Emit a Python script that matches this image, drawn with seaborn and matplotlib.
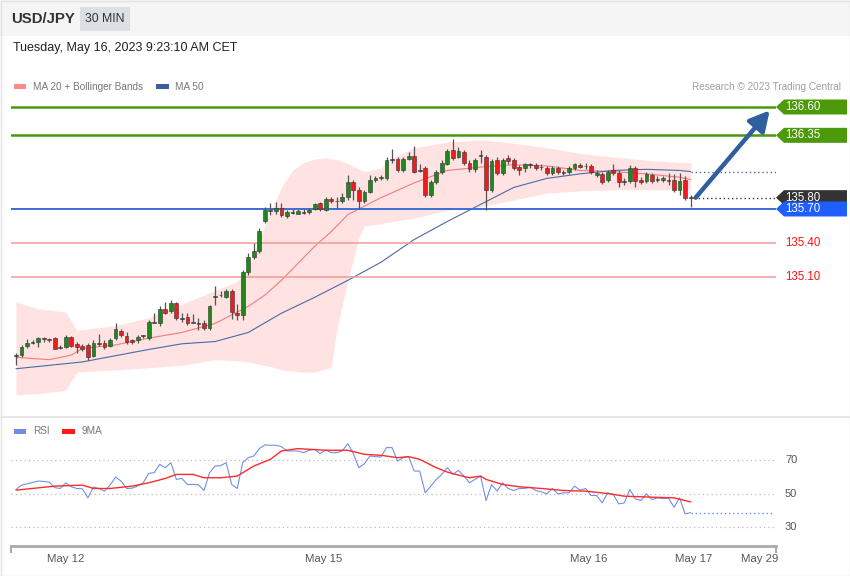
import numpy as np
import matplotlib
matplotlib.use("Agg")
import matplotlib.pyplot as plt
import seaborn as sns
from matplotlib.patches import Rectangle, Polygon
from matplotlib.transforms import blended_transform_factory

# ---------------- data (USD/JPY 30 min candles) ----------------
open_ = [134.40, 134.41, 134.49, 134.52, 134.53, 134.56, 134.55, 134.56, 134.47, 134.48,
         134.57, 134.51, 134.49, 134.50, 134.40, 134.51, 134.52, 134.49, 134.56, 134.62,
         134.58, 134.54, 134.54, 134.58, 134.56, 134.70, 134.69, 134.82, 134.80, 134.87,
         134.73, 134.75, 134.70, 134.69, 134.69, 134.65, 134.92, 134.94, 134.92, 134.98,
         134.78, 134.76, 135.14, 135.28, 135.33, 135.59, 135.69, 135.68, 135.71, 135.64,
         135.67, 135.66, 135.67, 135.67, 135.70, 135.75, 135.69, 135.79, 135.77, 135.77,
         135.81, 135.94, 135.87, 135.77, 135.85, 135.96, 135.97, 135.97, 136.14, 136.14,
         136.04, 136.14, 136.17, 136.04, 136.06, 135.82, 135.94, 136.03, 136.10, 136.22,
         136.16, 136.20, 136.11, 136.05, 136.17, 136.16, 135.87, 136.13, 136.02, 136.15,
         136.13, 136.07, 136.06, 136.09, 136.09, 136.07, 136.06, 136.02, 136.06, 136.03,
         136.03, 136.06, 136.09, 136.08, 136.08, 136.00, 136.01, 135.96, 136.04, 136.02,
         135.94, 135.95, 136.06, 135.96, 135.95, 136.00, 135.96, 135.96, 135.96, 135.96,
         135.87, 135.96, 135.80]
high = [134.43, 134.50, 134.55, 134.54, 134.57, 134.57, 134.56, 134.57, 134.50, 134.59,
        134.58, 134.53, 134.51, 134.52, 134.54, 134.60, 134.54, 134.56, 134.69, 134.64,
        134.61, 134.55, 134.59, 134.59, 134.72, 134.78, 134.84, 134.88, 134.90, 134.88,
        134.78, 134.78, 134.77, 134.74, 134.72, 134.85, 135.02, 134.98, 134.99, 134.99,
        134.86, 135.16, 135.31, 135.40, 135.53, 135.72, 135.75, 135.76, 135.75, 135.69,
        135.70, 135.70, 135.70, 135.71, 135.75, 135.76, 135.81, 135.81, 135.81, 135.84,
        136.00, 135.96, 135.89, 135.87, 136.00, 135.99, 136.00, 136.16, 136.23, 136.16,
        136.16, 136.20, 136.26, 136.10, 136.08, 135.96, 136.04, 136.13, 136.23, 136.32,
        136.25, 136.22, 136.13, 136.15, 136.22, 136.18, 136.14, 136.16, 136.15, 136.18,
        136.15, 136.09, 136.11, 136.11, 136.11, 136.10, 136.08, 136.08, 136.08, 136.04,
        136.08, 136.11, 136.11, 136.11, 136.10, 136.04, 136.03, 136.04, 136.10, 136.04,
        135.97, 136.09, 136.08, 135.98, 136.03, 136.02, 135.99, 135.99, 136.02, 136.01,
        136.02, 135.99, 135.82]
low = [134.32, 134.39, 134.47, 134.51, 134.48, 134.53, 134.53, 134.46, 134.46, 134.47,
       134.48, 134.43, 134.45, 134.37, 134.39, 134.49, 134.46, 134.48, 134.54, 134.57,
       134.51, 134.51, 134.52, 134.56, 134.54, 134.69, 134.67, 134.77, 134.78, 134.72,
       134.70, 134.68, 134.69, 134.63, 134.63, 134.63, 134.85, 134.92, 134.91, 134.73,
       134.72, 134.72, 135.12, 135.26, 135.31, 135.58, 135.65, 135.66, 135.63, 135.62,
       135.66, 135.66, 135.66, 135.66, 135.69, 135.68, 135.68, 135.75, 135.71, 135.75,
       135.78, 135.78, 135.70, 135.75, 135.84, 135.94, 135.96, 135.96, 136.11, 136.03,
       136.03, 136.13, 136.02, 136.03, 135.81, 135.81, 135.92, 136.01, 136.09, 136.13,
       136.15, 136.09, 136.03, 136.03, 136.11, 135.69, 135.85, 136.00, 136.00, 136.10,
       136.04, 136.00, 136.03, 136.06, 136.04, 136.04, 136.00, 136.00, 136.01, 136.00,
       136.01, 136.04, 136.06, 136.05, 136.01, 135.98, 135.92, 135.94, 136.00, 135.89,
       135.91, 135.93, 135.89, 135.92, 135.93, 135.93, 135.94, 135.94, 135.91, 135.85,
       135.82, 135.78, 135.72]
close = [134.41, 134.48, 134.52, 134.53, 134.56, 134.55, 134.54, 134.46, 134.48, 134.57,
         134.49, 134.48, 134.46, 134.39, 134.52, 134.51, 134.48, 134.54, 134.64, 134.59,
         134.53, 134.53, 134.57, 134.58, 134.70, 134.70, 134.82, 134.78, 134.87, 134.74,
         134.73, 134.69, 134.70, 134.69, 134.65, 134.84, 134.93, 134.94, 134.98, 134.79,
         134.76, 135.14, 135.28, 135.33, 135.51, 135.69, 135.69, 135.71, 135.65, 135.67,
         135.67, 135.68, 135.67, 135.69, 135.74, 135.70, 135.79, 135.77, 135.77, 135.81,
         135.94, 135.87, 135.77, 135.85, 135.96, 135.97, 135.98, 136.13, 136.14, 136.04,
         136.14, 136.17, 136.03, 136.04, 135.82, 135.94, 136.03, 136.11, 136.21, 136.15,
         136.21, 136.11, 136.05, 136.13, 136.17, 135.87, 136.12, 136.02, 136.13, 136.12,
         136.06, 136.04, 136.10, 136.09, 136.06, 136.07, 136.02, 136.06, 136.03, 136.02,
         136.06, 136.10, 136.07, 136.08, 136.03, 136.02, 135.94, 136.03, 136.02, 135.94,
         135.94, 136.06, 135.95, 135.94, 136.01, 135.95, 135.96, 135.97, 135.95, 135.87,
         135.95, 135.80, 135.80]

# moving averages / bands read at sampled candle indices
ma20_idx = [0, 6, 10, 12, 18, 24, 30, 36, 42, 45, 48, 51, 54, 57, 60, 66, 72, 78, 84, 90,
            96, 102, 108, 114, 120, 122]
ma20_val = [134.39, 134.37, 134.41, 134.47, 134.50, 134.56, 134.61, 134.69, 134.84, 134.94,
            135.07, 135.22, 135.37, 135.50, 135.65, 135.80, 135.93, 136.04, 136.07, 136.09,
            136.08, 136.04, 136.03, 136.01, 135.98, 135.96]
ma50_idx = [0, 12, 24, 30, 36, 42, 48, 54, 60, 66, 72, 78, 84, 90, 96, 102, 108, 114, 120, 122]
ma50_val = [134.29, 134.35, 134.46, 134.51, 134.53, 134.61, 134.78, 134.92, 135.07, 135.23,
            135.43, 135.59, 135.74, 135.89, 135.97, 136.01, 136.04, 136.05, 136.04, 136.03]
band_idx = [0, 4, 9, 11, 18, 24, 30, 36, 40, 42, 44, 46, 48, 50, 52, 54, 56, 57, 58, 60,
            62, 63, 66, 68, 72, 78, 84, 90, 96, 102, 108, 114, 120, 122]
band_up = [134.88, 134.82, 134.79, 134.63, 134.67, 134.74, 134.86, 134.98, 135.06, 135.18,
           135.43, 135.67, 135.89, 136.04, 136.11, 136.14, 136.15, 136.14, 136.14, 136.10,
           136.05, 136.03, 136.06, 136.15, 136.24, 136.29, 136.31, 136.28, 136.24, 136.19,
           136.16, 136.13, 136.11, 136.11]
band_lo = [134.06, 134.07, 134.10, 134.26, 134.28, 134.30, 134.32, 134.37, 134.36, 134.35,
           134.33, 134.31, 134.28, 134.27, 134.26, 134.26, 134.29, 134.30, 134.63, 135.07,
           135.45, 135.55, 135.57, 135.59, 135.62, 135.69, 135.72, 135.78, 135.84, 135.86,
           135.87, 135.87, 135.87, 135.87]

rsi = [52.4, 55.0, 55.8, 56.6, 57.4, 57.2, 56.8, 53.5, 53.0, 56.4,
       54.0, 53.0, 52.8, 47.4, 53.8, 53.0, 51.4, 55.0, 59.8, 57.4,
       53.0, 53.2, 54.4, 56.4, 62.0, 62.5, 67.4, 65.4, 68.4, 58.4,
       59.0, 55.4, 55.4, 55.2, 51.8, 62.4, 66.4, 66.6, 68.4, 55.4,
       53.0, 68.4, 71.4, 72.4, 76.8, 79.0, 78.8, 78.8, 78.0, 75.4,
       75.4, 75.4, 74.4, 75.8, 76.4, 73.8, 76.0, 74.4, 74.4, 75.4,
       79.8, 73.8, 65.4, 67.8, 72.4, 72.0, 71.8, 77.4, 77.4, 69.4,
       71.4, 72.0, 63.4, 63.4, 50.4, 54.4, 58.4, 61.4, 65.4, 61.4,
       63.8, 60.4, 56.4, 58.4, 60.4, 45.8, 55.4, 51.4, 56.4, 53.0,
       51.8, 53.0, 53.0, 53.8, 51.8, 51.0, 49.8, 53.0, 49.8, 50.4,
       50.4, 54.4, 52.0, 53.0, 48.8, 48.8, 44.4, 50.4, 49.4, 43.8,
       44.4, 52.4, 46.8, 45.8, 49.8, 46.4, 47.4, 47.0, 47.2, 41.8,
       47.4, 37.8, 38.6]
ma9_idx = [0, 7, 12, 14, 17, 21, 24, 27, 29, 32, 34, 37, 40, 43, 46, 48, 51, 56, 60, 63,
           66, 69, 71, 73, 76, 78, 80, 82, 84, 85, 88, 91, 95, 99, 103, 107, 110, 115, 119, 122]
ma9_val = [52.0, 54.4, 55.0, 53.0, 53.0, 54.4, 56.4, 59.0, 61.4, 61.4, 59.4, 59.4, 60.4, 66.4,
           70.4, 75.4, 76.8, 75.8, 75.8, 73.4, 72.8, 71.4, 72.0, 70.4, 65.4, 62.8, 61.0, 59.4,
           60.4, 58.4, 55.4, 54.0, 53.0, 51.8, 51.4, 50.0, 48.4, 47.8, 47.4, 45.0]

levels = [136.60, 136.35, 135.80, 135.70]
level_colors = ['#4c9a0a', '#4c9a0a', '#333333', '#1f5fff']
level_labels = ['136.60', '136.35', '135.80', '135.70']
supports = [135.40, 135.10]
support_labels = ['135.40', '135.10']
target = 136.57
last_ma50 = 136.03
last_rsi = 38.6

tick_labels = ['May 12', 'May 15', 'May 16', 'May 17', 'May 29']
tick_pos = [8.9, 55.7, 103.6, 122.6, 134.5]

# ---------------- figure ----------------
sns.set_theme(style="white")
plt.rcParams['font.family'] = ['Liberation Sans', 'DejaVu Sans']

W, H = 850, 576
fig = plt.figure(figsize=(W / 100, H / 100), dpi=100)
fig.patch.set_facecolor('white')


def fx(px):
    return px / W


def fy(py):
    return 1 - py / H


def frect(x0, y0, x1, y1, **kw):
    fig.add_artist(Rectangle((fx(x0), fy(y1)), fx(x1) - fx(x0), fy(y0) - fy(y1),
                             transform=fig.transFigure, **kw))


frect(0, 0, 850, 36, facecolor='#f5f5f5', edgecolor='none', zorder=0)
frect(80, 7, 130, 31, facecolor='#dcdfe4', edgecolor='none', zorder=1)
fig.text(fx(11), fy(19), 'USD/JPY', fontsize=10.8, fontweight='bold', color='#333333',
         va='center', ha='left')
fig.text(fx(105), fy(19), '30 MIN', fontsize=8.8, color='#333333', va='center', ha='center')
fig.text(fx(13), fy(48.5), 'Tuesday, May 16, 2023 9:23:10 AM CET', fontsize=9, color='#222222',
         va='center', ha='left')
frect(14, 84, 26, 89, facecolor='#ff8a8a', edgecolor='none')
fig.text(fx(33), fy(86.5), 'MA 20 + Bollinger Bands', fontsize=7.2, color='#777777', va='center')
frect(156, 84, 169, 89, facecolor='#3a5fa0', edgecolor='none')
fig.text(fx(175), fy(86.5), 'MA 50', fontsize=7.2, color='#777777', va='center')
fig.text(fx(841), fy(86.5), 'Research © 2023 Trading Central', fontsize=7.2, color='#a0a0a0',
         va='center', ha='right')
fig.add_artist(plt.Line2D([0, 1], [fy(416.5)] * 2, transform=fig.transFigure,
                          color='#e6e6e6', lw=1.5))
frect(0.5, 0.5, 849.5, 575.5, facecolor='none', edgecolor='#e3e3e3', lw=1)

XL = (-5 / 5.53, 760 / 5.53)
YL = (134.014, 136.706)

# ---------------- main price panel ----------------
ax = fig.add_axes([fx(11), fy(400), fx(776) - fx(11), fy(95) - fy(400)])
ax.set_facecolor('none')

ax.fill_between(band_idx, band_lo, band_up, color='#ffe2e2', lw=0, zorder=1)
sns.lineplot(x=ma20_idx, y=ma20_val, ax=ax, color='#f47c7c', lw=0.8, zorder=2)
sns.lineplot(x=ma50_idx, y=ma50_val, ax=ax, color='#4a6aa8', lw=0.8, zorder=2)

ax.axhline(levels[0], color=level_colors[0], lw=1.8, zorder=2)
ax.axhline(levels[1], color=level_colors[1], lw=1.8, zorder=2)
ax.axhline(levels[3], color='#3b6fd4', lw=1.4, zorder=2)
for s in supports:
    ax.axhline(s, color='#f09a9a', lw=1.1, zorder=2)

idx = np.arange(len(close))
o = np.array(open_)
c = np.array(close)
hi = np.array(high)
lo = np.array(low)
doji = np.abs(c - o) < 0.006
cols = np.where(doji, '#444444', np.where(c > o, '#1b8a1b', '#ee1c1c'))
ax.vlines(idx, lo, hi, color='#555555', lw=0.9, zorder=3)
ax.bar(idx, np.maximum(np.abs(c - o), 0.007), bottom=np.minimum(o, c) - np.where(doji, 0.0035, 0),
       width=0.68, color=cols, edgecolor='#333333', linewidth=0.4, zorder=4)

ax.plot([idx[-1] + 0.6, XL[1]], [close[-1]] * 2, ls=(0, (1, 2)), color='#333333', lw=1, zorder=3)
ax.plot([idx[-1], XL[1]], [last_ma50] * 2, ls=(0, (1, 2)), color='#4a6aa8', lw=1, zorder=3)

ax.annotate('', xy=(136.3, target), xytext=(idx[-1] + 0.9, close[-1]),
            arrowprops=dict(arrowstyle='-|>,head_length=0.6,head_width=0.32', color='#2f5f9e',
                            lw=3.2, mutation_scale=20, shrinkA=0, shrinkB=0), zorder=6)

ax.set_xlim(XL)
ax.set_ylim(YL)
ax.set_axis_off()

trans = blended_transform_factory(fig.transFigure, ax.transData)
hh = 7.5 * (YL[1] - YL[0]) / 305
for lev, col, lab in zip(levels, level_colors, level_labels):
    pts = [(fx(776), lev), (fx(784), lev + hh), (fx(847), lev + hh), (fx(847), lev - hh),
           (fx(784), lev - hh)]
    ax.add_patch(Polygon(pts, closed=True, transform=trans, facecolor=col, edgecolor='none',
                         clip_on=False, zorder=7))
    ax.text(fx(785), lev, lab, transform=trans, color='white', fontsize=8.3, va='center',
            ha='left', clip_on=False, zorder=8)
for s, lab in zip(supports, support_labels):
    ax.text(fx(785), s, lab, transform=trans, color='#ff1010', fontsize=8.3, va='center',
            ha='left', clip_on=False)

# ---------------- RSI panel ----------------
ax2 = fig.add_axes([fx(11), fy(546), fx(776) - fx(11), fy(440) - fy(546)])
ax2.set_facecolor('none')
for v in [70, 50, 30]:
    ax2.axhline(v, color='#bbbbbb', lw=0.9, ls=(0, (1, 2.5)), zorder=1)
sns.lineplot(x=idx, y=rsi, ax=ax2, color='#7090e8', lw=0.8, zorder=3)
sns.lineplot(x=ma9_idx, y=ma9_val, ax=ax2, color='#ff2a2a', lw=1.0, zorder=4)
ax2.plot([idx[-1], XL[1] - 0.6], [last_rsi] * 2, color='#7090e8', ls=(0, (1, 2)), lw=1, zorder=3)
ax2.set_xlim(XL)
ax2.set_ylim(18.66, 81.94)
for sp in ['top', 'left', 'right']:
    ax2.spines[sp].set_visible(False)
ax2.spines['bottom'].set_color('#aaaaaa')
ax2.spines['bottom'].set_linewidth(2)
ax2.set_yticks([])
ax2.set_ylabel('')
ax2.set_xlabel('')
ax2.set_xticks([XL[0] + 0.05, XL[1] - 0.05])
ax2.set_xticklabels(['', ''])
ax2.set_xticks(tick_pos, minor=True)
ax2.set_xticklabels(tick_labels, minor=True)
ax2.tick_params(axis='x', which='major', length=5, width=1.5, color='#aaaaaa', direction='out',
                bottom=True, labelbottom=False)
ax2.tick_params(axis='x', which='minor', length=0, pad=6, labelsize=8.2, labelcolor='#555555',
                bottom=True)
trans2 = blended_transform_factory(fig.transFigure, ax2.transData)
for v in [70, 50, 30]:
    ax2.text(fx(785), v, str(v), transform=trans2, fontsize=8, color='#555555', va='center',
             ha='left', clip_on=False)

frect(14, 429, 26, 434, facecolor='#6f8de6', edgecolor='none')
fig.text(fx(33), fy(431.5), 'RSI', fontsize=7.2, color='#777777', va='center')
frect(62, 429, 75, 434, facecolor='#ff1a1a', edgecolor='none')
fig.text(fx(82), fy(431.5), '9MA', fontsize=7.2, color='#777777', va='center')

fig.savefig('out.png', dpi=100, facecolor='white')
